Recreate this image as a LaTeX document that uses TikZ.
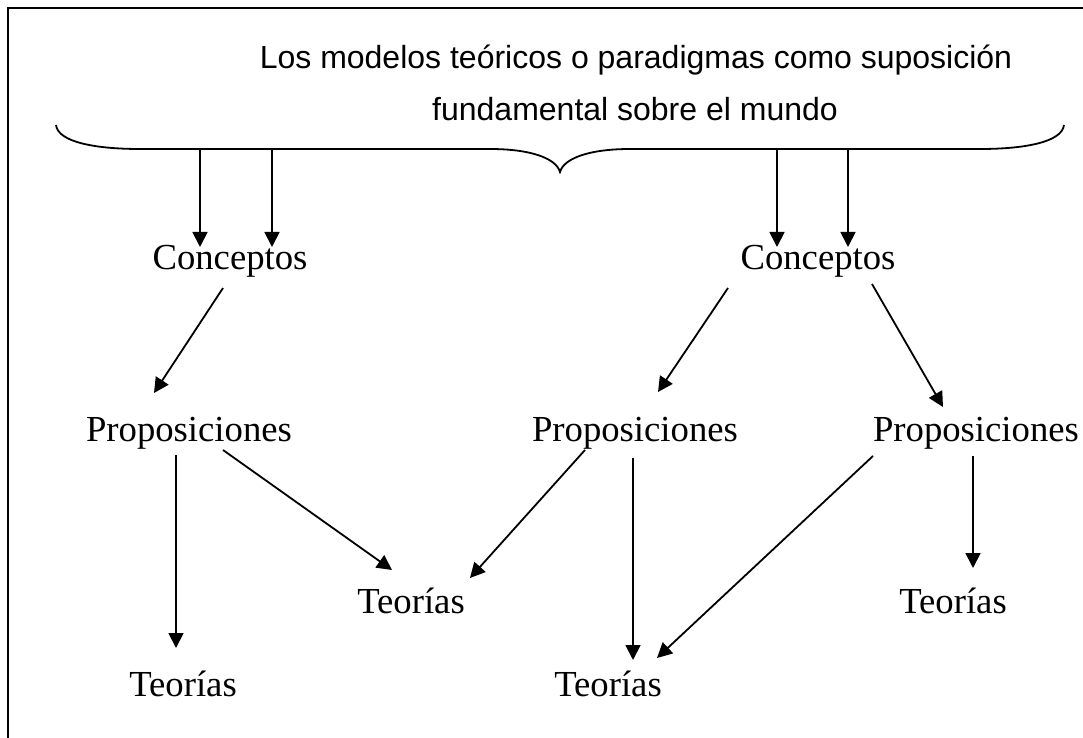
\documentclass[tikz,border=0pt]{standalone}
\usepackage{fontspec}
\setmainfont{Liberation Serif}
\newfontfamily\arialfont{Liberation Sans}
\usetikzlibrary{positioning,arrows.meta}

\begin{document}
\begin{tikzpicture}[x=0.5pt,y=-0.5pt]
        \tikzstyle{every node}=[inner sep=0pt, anchor=base, font=\fontsize{18.35}{22}\selectfont]
        \tikzstyle{arr}=[line width=0.9pt, -{Triangle[length=7.5pt,width=7.5pt]}]

        \useasboundingbox (0,0) rectangle (1083,738);
        \clip (0,0) rectangle (1083,738);
        \draw[line width=1pt] (8,760) -- (8,8) -- (1100,8);

        % title and brace
        \node (tA) at (636,69) {\arialfont\fontsize{16}{19}\selectfont Los modelos teóricos o paradigmas como suposición};
        \node (tB) at (635,121) {\arialfont\fontsize{16}{19}\selectfont fundamental sobre el mundo};
        \coordinate (bl) at (56,125);
        \coordinate (bm) at (560,172);
        \coordinate (br) at (1064,125);
        \draw[line width=0.9pt] (bl) .. controls (58,142) and (95,149) .. (140,149) -- (490,149)
            .. controls (530,149) and (556,158) .. (bm)
            .. controls (564,158) and (590,149) .. (630,149) -- (980,149)
            .. controls (1025,149) and (1062,142) .. (br);
        \coordinate (b1) at (200,150);
        \coordinate (b2) at (272,150);
        \coordinate (b3) at (777,150);
        \coordinate (b4) at (848,150);

        % nodes
        \node (c1) at (230,270) {Conceptos};
        \node (c2) at (818,270) {Conceptos};
        \node (p1) at (189,441) {Proposiciones};
        \node (p2) at (635,441) {Proposiciones};
        \node (p3) at (976,441) {Proposiciones};
        \node (t1) at (183,696) {Teorías};
        \node (t2) at (411,613) {Teorías};
        \node (t3) at (608,696) {Teorías};
        \node (t4) at (953,613) {Teorías};

        % arrows
        \draw[arr] (b1) -- ([xshift=-15pt,yshift=11.5pt]c1.base);
        \draw[arr] (b2) -- ([xshift=21pt,yshift=11.5pt]c1.base);
        \draw[arr] (b3) -- ([xshift=-20.5pt,yshift=11.5pt]c2.base);
        \draw[arr] (b4) -- ([xshift=15pt,yshift=11.5pt]c2.base);
        \draw[arr] ([xshift=-3.5pt,yshift=-9pt]c1.base) -- ([xshift=-17.5pt,yshift=24pt]p1.base);
        \draw[arr] ([xshift=-45pt,yshift=-9pt]c2.base) -- ([xshift=11.5pt,yshift=24.5pt]p2.base);
        \draw[arr] ([xshift=27pt,yshift=-7pt]c2.base) -- ([xshift=-16.5pt,yshift=17pt]p3.base);
        \draw[arr] ([xshift=-6.5pt,yshift=-7pt]p1.base) -- ([xshift=-3.5pt,yshift=24pt]t1.base);
        \draw[arr] ([xshift=17pt,yshift=-4.5pt]p1.base) -- ([xshift=-9.5pt,yshift=21.5pt]t2.base);
        \draw[arr] ([xshift=-25pt,yshift=-4.5pt]p2.base) -- ([xshift=29.5pt,yshift=17.5pt]t2.base);
        \draw[arr] ([xshift=-1pt,yshift=-8.5pt]p2.base) -- ([xshift=12.5pt,yshift=18pt]t3.base);
        \draw[arr] ([xshift=-51.5pt,yshift=-7.5pt]p3.base) -- ([xshift=24.5pt,yshift=19pt]t3.base);
        \draw[arr] ([xshift=-1.5pt,yshift=-7.5pt]p3.base) -- ([xshift=10pt,yshift=22.5pt]t4.base);

\end{tikzpicture}
\end{document}
